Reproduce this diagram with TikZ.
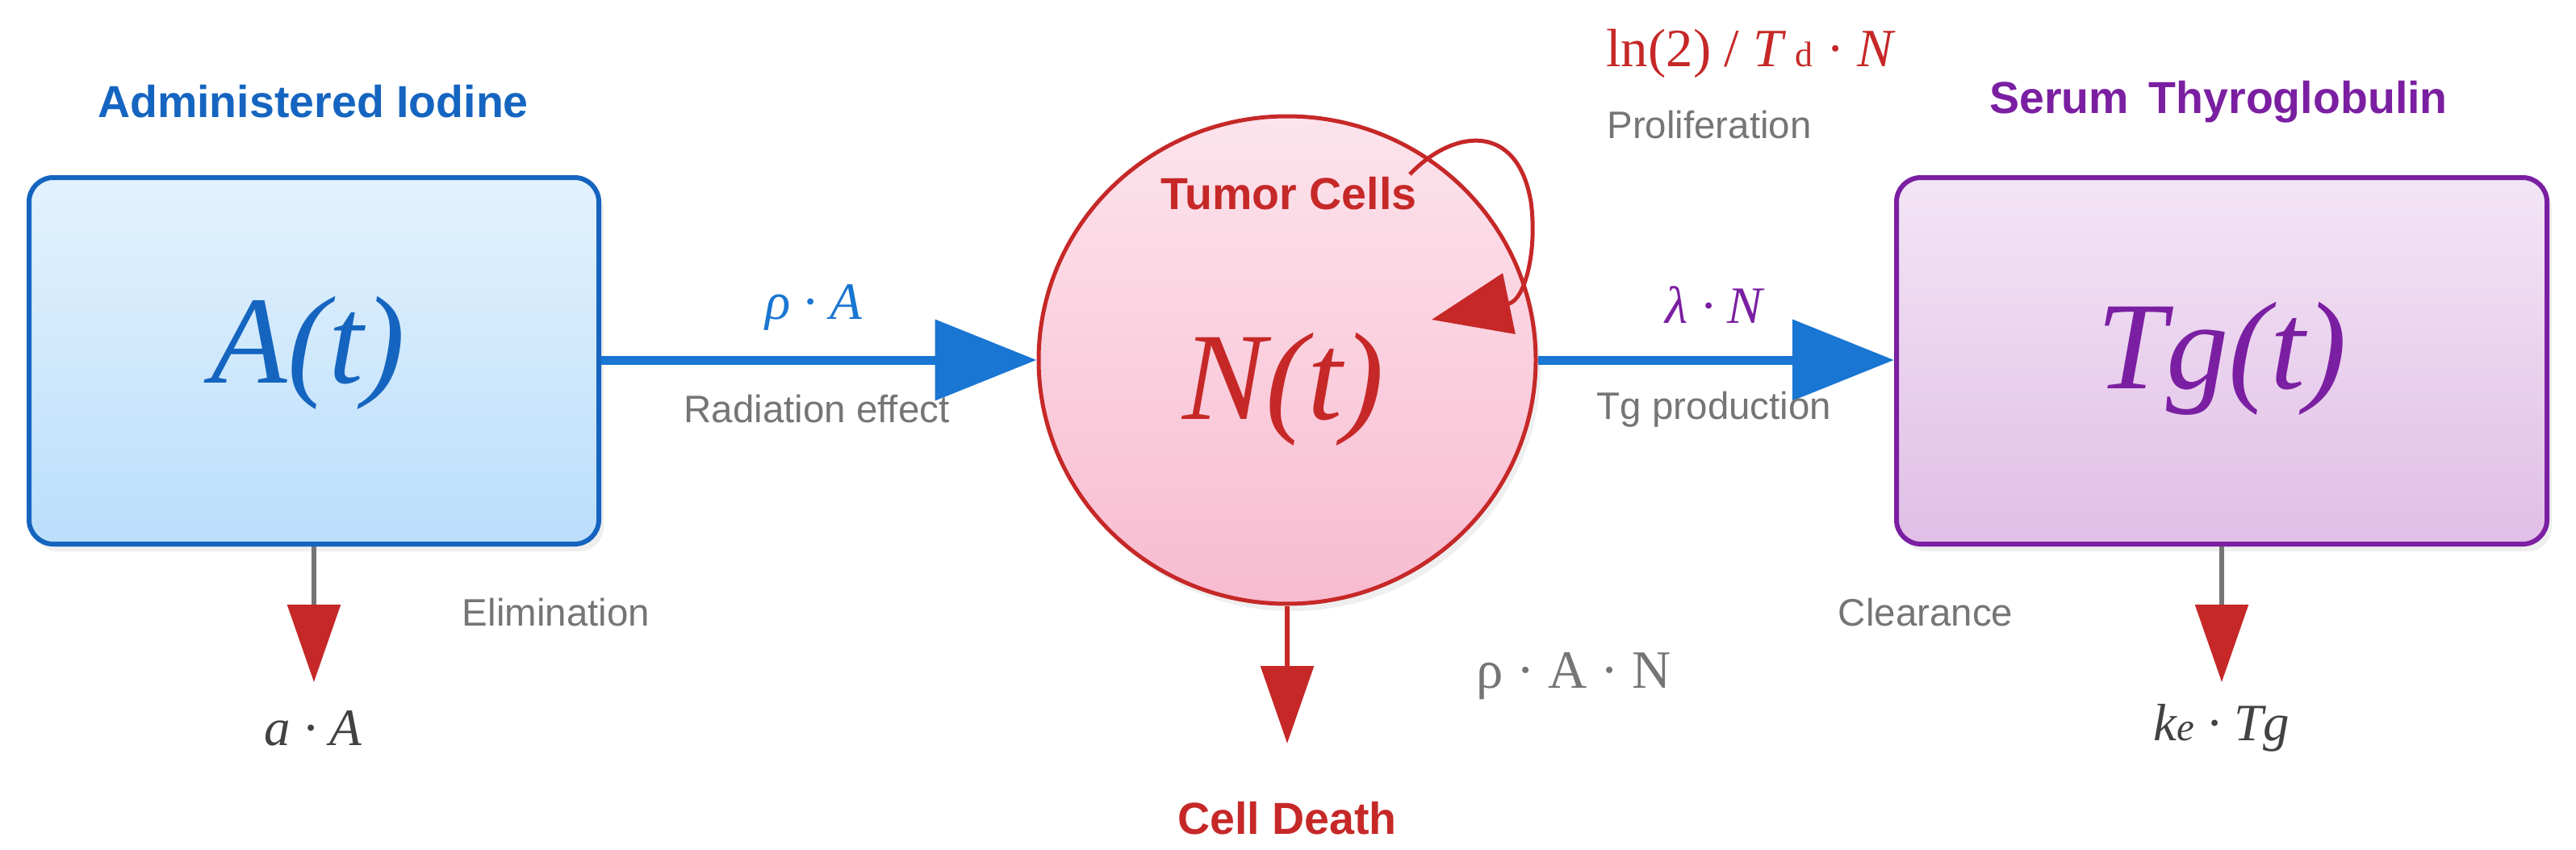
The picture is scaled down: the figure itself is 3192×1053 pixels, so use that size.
\documentclass[tikz,border=0pt]{standalone}
\usepackage{fontspec}
\setmainfont{Liberation Sans}
\newfontfamily\formfont{Liberation Serif}
\usetikzlibrary{arrows.meta,positioning,shapes.geometric,shadows}
\definecolor{iodBlue}{RGB}{21,101,192}
\definecolor{flowBlue}{RGB}{25,118,210}
\definecolor{iodTop}{RGB}{227,242,253}
\definecolor{iodBottom}{RGB}{187,222,251}
\definecolor{tumRed}{RGB}{198,40,40}
\definecolor{tumTop}{RGB}{252,228,236}
\definecolor{tumBottom}{RGB}{248,187,208}
\definecolor{tgPurple}{RGB}{123,31,162}
\definecolor{tgTop}{RGB}{243,229,245}
\definecolor{tgBottom}{RGB}{225,190,231}
\definecolor{noteGray}{RGB}{117,117,117}
\definecolor{formGray}{RGB}{66,66,66}

\begin{document}
\begin{tikzpicture}[x=0.1mm, y=-0.1mm,
  compartment/.style={draw, rounded corners=3mm, line width=0.6mm, minimum height=45.4mm, inner sep=0pt,
    drop shadow={shadow xshift=0.6mm, shadow yshift=-0.9mm, opacity=0.12}},
  cellnode/.style={draw=tumRed, ellipse, line width=0.5mm, minimum width=61.6mm, minimum height=60.4mm, inner sep=0pt,
    top color=tumTop, bottom color=tumBottom, drop shadow={shadow xshift=0.6mm, shadow yshift=-0.9mm, opacity=0.12}},
  title/.style={font=\fontsize{15.8}{18}\selectfont\bfseries, inner sep=0pt},
  big/.style={font=\fontsize{44}{50}\selectfont\formfont\itshape, inner sep=0pt},
  rate/.style={font=\fontsize{18.5}{22}\selectfont\formfont\itshape, inner sep=0pt},
  note/.style={font=\fontsize{13.5}{16}\selectfont, text=noteGray, inner sep=0pt},
  flow/.style={draw=flowBlue, line width=1.1mm, -{Triangle[length=12.6mm, width=9.8mm]}},
  loss/.style={draw=noteGray, line width=0.6mm, -{Triangle[length=9.6mm, width=6.5mm, color=tumRed]}}
]
  \fill[white] (0,0) rectangle (3192,1053);
  \useasboundingbox (0,0) rectangle (3192,1053);

  % compartments
  \node[compartment, draw=iodBlue, top color=iodTop, bottom color=iodBottom, minimum width=70.6mm] (iodine) at (389,447) {};
  \node[big, text=iodBlue] (At) at (382,437) {A(t)};
  \node[title, text=iodBlue] (iodtitle) at (388,126) {Administered Iodine};

  \node[cellnode] (tumor) at (1595,446) {};
  \node[title, text=tumRed] (tumtitle) at (1597,240) {Tumor Cells};
  \node[big, text=tumRed] (Nt) at (1590,482) {N(t)};

  \node[compartment, draw=tgPurple, top color=tgTop, bottom color=tgBottom, minimum width=80.6mm] (tg) at (2753,447) {};
  \node[big, text=tgPurple] (Tgt) at (2753,444) {Tg(t)};
  \node[title, text=tgPurple] (tgtitle) at (2749,126) {Serum\, Thyroglobulin};

  % flows between compartments
  \draw[flow] (iodine.east |- tumor.west) -- (tumor.west);
  \node[rate, text=flowBlue] (rhoA) at (1008,381) {ρ · A};
  \node[note] (radlbl) at (1012,507) {Radiation effect};

  \draw[flow] (tumor.east) -- (tg.west |- tumor.east);
  \node[rate, text=tgPurple] (lamN) at (2124,378) {λ · N};
  \node[note] (tglbl) at (2124,507) {Tg production};

  % proliferation loop
  \draw[draw=tumRed, line width=0.5mm, -{Triangle[length=9.8mm, width=7.6mm]}]
    (1747,216) .. controls (1800,160) and (1880,150) .. (1897,250)
    .. controls (1905,310) and (1890,372) .. (1774,396);
  \node[font=\fontsize{19}{24}\selectfont\formfont, text=tumRed, inner sep=0pt] (prolif) at (2170,66)
    {ln(2) / \textit{T}\,{\fontsize{12.5}{14}\selectfont d} · \textit{N}};
  \node[note] (proliflbl) at (2118,155) {Proliferation};

  % losses
  \coordinate (elimEnd) at (389,845);
  \draw[loss] (iodine.south) -- (elimEnd);
  \node[note] (elimlbl) at (689,759) {Elimination};
  \node[rate, text=formGray] (aA) at (388,902) {a · A};

  \coordinate (deathEnd) at (1595,921);
  \draw[loss, draw=tumRed] (tumor.south) -- (deathEnd);
  \node[title, text=tumRed] (deathlbl) at (1595,1014) {Cell Death};
  \node[font=\fontsize{19}{22}\selectfont\formfont, text=noteGray, inner sep=0pt] (rhoAN) at (1950,838) {ρ · A · N};

  \coordinate (clearEnd) at (2753,845);
  \draw[loss] (tg.south) -- (clearEnd);
  \node[note] (clearlbl) at (2386,759) {Clearance};
  \node[rate, text=formGray] (keTg) at (2753,902) {k{\fontsize{14}{16}\selectfont e} · Tg};
\end{tikzpicture}
\end{document}
